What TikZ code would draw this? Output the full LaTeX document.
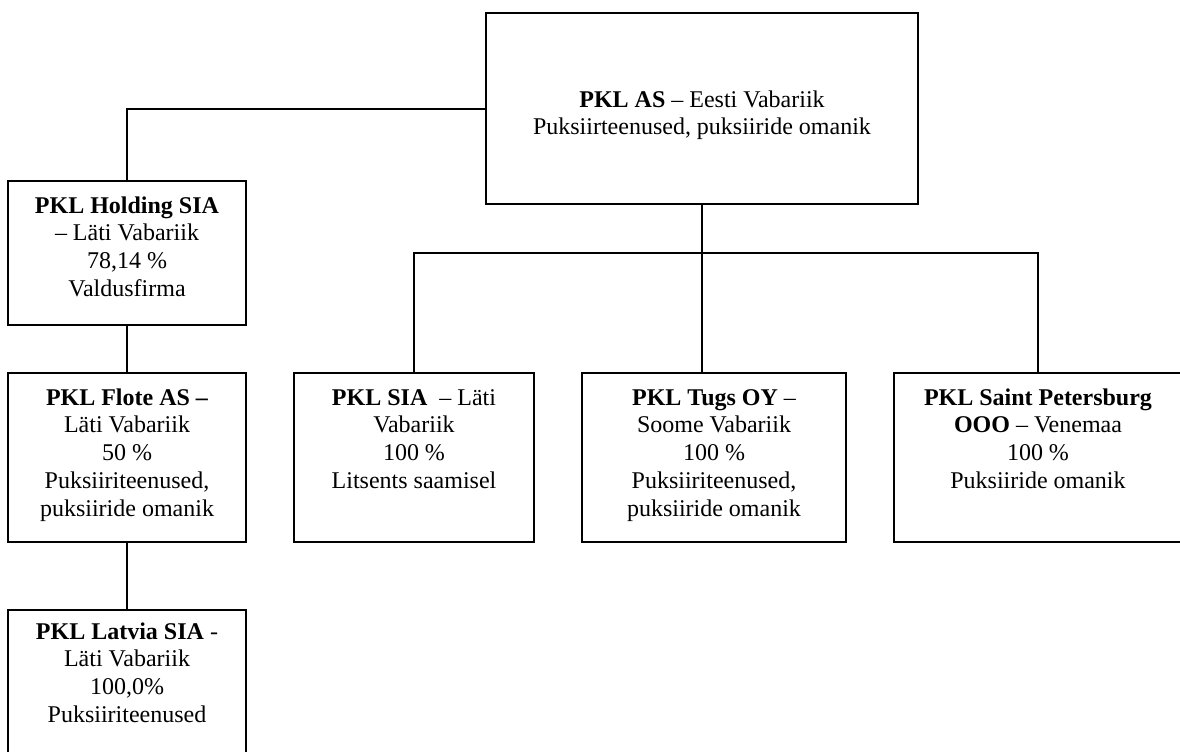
\documentclass[tikz,border=0pt]{standalone}
\usepackage{fontspec}
\setmainfont{Liberation Serif}
\newcommand\boxtext[4]{\parbox[c][#2][t]{#1}{\centering\fontsize{12pt}{13.9pt}\selectfont\rule{0pt}{#3}#4\par}}
\begin{document}
\begin{tikzpicture}[x=0.5pt,y=-0.5pt,
  orgbox/.style={draw,line width=1pt,inner sep=0pt,rectangle},
  link/.style={line width=1pt}]
\useasboundingbox (0,0) rectangle (1180,751);
\node[orgbox] (pklas) at (702,108.5) {\boxtext{216pt}{95.5pt}{47pt}{\textbf{PKL AS} – Eesti Vabariik\\Puksiirteenused, puksiiride omanik}};
\node[orgbox] (holding) at (127,253) {\boxtext{119pt}{72pt}{16pt}{\textbf{PKL Holding SIA}\\– Läti Vabariik\\78,14 \%\\Valdusfirma}};
\node[orgbox] (flote) at (127,457.5) {\boxtext{119pt}{84.5pt}{16pt}{\textbf{PKL Flote AS –}\\Läti Vabariik\\50 \%\\Puksiiriteenused,\\puksiiride omanik}};
\node[orgbox] (latvia) at (127,695) {\boxtext{119pt}{85pt}{14.5pt}{\textbf{PKL Latvia SIA} -\\Läti Vabariik\\100,0\%\\Puksiiriteenused}};
\node[orgbox] (sia) at (414,457.5) {\boxtext{120pt}{84.5pt}{16pt}{\textbf{PKL SIA}\ \ – Läti\\Vabariik\\100 \%\\Litsents saamisel}};
\node[orgbox] (tugs) at (714,457.5) {\boxtext{132pt}{84.5pt}{16pt}{\textbf{PKL Tugs OY} –\\Soome Vabariik\\100 \%\\Puksiiriteenused,\\puksiiride omanik}};
\node[orgbox] (spb) at (1038,457.5) {\boxtext{144pt}{84.5pt}{16pt}{\textbf{PKL Saint Petersburg}\\\textbf{OOO} – Venemaa\\100 \%\\Puksiiride omanik}};
\coordinate (bus) at (702,253);
\draw[link] (pklas.west) -| (holding.north);
\draw[link] (holding.south) -- (flote.north);
\draw[link] (flote.south) -- (latvia.north);
\draw[link] (pklas.south) -- (pklas.south |- tugs.north);
\draw[link] (sia.north) |- (bus) -| (spb.north);
\end{tikzpicture}
\end{document}
